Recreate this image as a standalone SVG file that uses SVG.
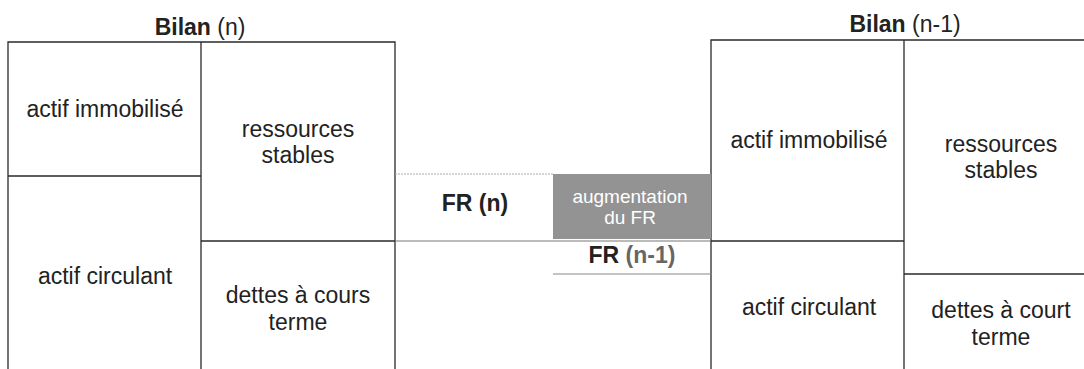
<svg xmlns="http://www.w3.org/2000/svg" width="1084" height="369" viewBox="0 0 1084 369">
<style>
.box{fill:none;stroke:#2a2a2a;stroke-width:1.3}
.t{font-family:"Liberation Sans",Arial,sans-serif;font-size:23px;fill:#222;text-anchor:middle}
.b{font-weight:bold}
.g{fill:#666}
</style>
<rect width="1084" height="369" fill="#fff"/>
<g id="bilan-n">
<text class="t" x="200" y="35"><tspan class="b">Bilan</tspan> (n)</text>
<path class="box" d="M8,369 V42 H395 V369 M201,42 V369 M8,176 H201 M201,241 H395"/>
</g>
<g id="actif-immobilise-n"><text class="t" x="105" y="117">actif immobilisé</text></g>
<g id="ressources-stables-n"><text class="t" x="298" y="137">ressources</text><text class="t" x="298" y="163">stables</text></g>
<g id="actif-circulant-n"><text class="t" x="105" y="284">actif circulant</text></g>
<g id="dettes-n"><text class="t" x="298" y="303">dettes à cours</text><text class="t" x="298" y="330">terme</text></g>
<g id="bilan-n1">
<text class="t" x="905" y="32"><tspan class="b">Bilan</tspan> (n-1)</text>
<path class="box" d="M711,369 V40 H1084 M904,40 V369 M711,241 H904 M904,274 H1084"/>
</g>
<g id="actif-immobilise-n1"><text class="t" x="809" y="148">actif immobilisé</text></g>
<g id="ressources-stables-n1"><text class="t" x="1001" y="152">ressources</text><text class="t" x="1001" y="178">stables</text></g>
<g id="actif-circulant-n1"><text class="t" x="809" y="315">actif circulant</text></g>
<g id="dettes-n1"><text class="t" x="1001" y="318">dettes à court</text><text class="t" x="1001" y="345">terme</text></g>
<g id="connectors">
<line x1="395" y1="174" x2="553" y2="174" stroke="#aaa" stroke-width="1" stroke-dasharray="2,1"/>
<line x1="395" y1="241" x2="711" y2="241" stroke="#777" stroke-width="1"/>
<line x1="553" y1="274" x2="711" y2="274" stroke="#888" stroke-width="1"/>
</g>
<g id="augmentation">
<rect x="553" y="174" width="158" height="65" fill="#939393"/>
<text class="t" x="630" y="203" style="font-size:19px;fill:#fff">augmentation</text>
<text class="t" x="630" y="224" style="font-size:19px;fill:#fff">du FR</text>
</g>
<g id="fr-n"><text class="t b" x="475" y="211">FR (n)</text></g>
<g id="fr-n1"><text class="t" x="632" y="263"><tspan class="b">FR</tspan> <tspan class="b g">(n-1)</tspan></text></g>
</svg>
